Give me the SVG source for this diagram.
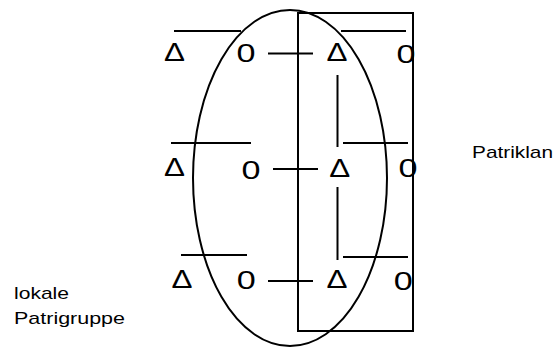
<svg xmlns="http://www.w3.org/2000/svg" width="554" height="347" viewBox="0 0 554 347">
<style>
.ln{stroke:#000;stroke-width:2;fill:none}
.sym{font-family:"Liberation Sans",Arial,sans-serif;font-size:25px;fill:#000;text-anchor:middle}
.lbl{font-family:"Liberation Sans",Arial,sans-serif;font-size:17px;fill:#000}
</style>
<rect width="554" height="347" fill="#fff"/>
<g id="patrigruppe-ellipse"><ellipse class="ln" cx="290" cy="178" rx="97" ry="168"/></g>
<g id="patriklan-rect"><rect class="ln" x="298" y="13" width="115" height="318"/></g>
<g id="row1-left">
<line class="ln" x1="174" y1="31" x2="241" y2="31"/>
<text class="sym" x="174.5" y="61" textLength="21" lengthAdjust="spacingAndGlyphs">Δ</text>
<text class="sym" x="246" y="62" textLength="19" lengthAdjust="spacingAndGlyphs">0</text>
</g>
<g id="row1-right">
<line class="ln" x1="341" y1="31" x2="406" y2="31"/>
<text class="sym" x="337" y="61" textLength="21" lengthAdjust="spacingAndGlyphs">Δ</text>
<text class="sym" x="406" y="63" textLength="19" lengthAdjust="spacingAndGlyphs">0</text>
</g>
<g id="row2-left">
<line class="ln" x1="171" y1="143" x2="251" y2="143"/>
<text class="sym" x="174.5" y="176" textLength="21" lengthAdjust="spacingAndGlyphs">Δ</text>
<text class="sym" x="251" y="178.5" textLength="19" lengthAdjust="spacingAndGlyphs">0</text>
</g>
<g id="row2-right">
<line class="ln" x1="343" y1="143" x2="408" y2="143"/>
<text class="sym" x="339.7" y="176.5" textLength="21" lengthAdjust="spacingAndGlyphs">Δ</text>
<text class="sym" x="408" y="176.5" textLength="19" lengthAdjust="spacingAndGlyphs">0</text>
</g>
<g id="row3-left">
<line class="ln" x1="181" y1="255" x2="247" y2="255"/>
<text class="sym" x="182" y="288" textLength="21" lengthAdjust="spacingAndGlyphs">Δ</text>
<text class="sym" x="246.3" y="288.5" textLength="19" lengthAdjust="spacingAndGlyphs">0</text>
</g>
<g id="row3-right">
<line class="ln" x1="343" y1="257" x2="408" y2="257"/>
<text class="sym" x="337" y="288" textLength="21" lengthAdjust="spacingAndGlyphs">Δ</text>
<text class="sym" x="403.3" y="290" textLength="19" lengthAdjust="spacingAndGlyphs">0</text>
</g>
<g id="connectors">
<line class="ln" x1="268" y1="53.5" x2="313" y2="53.5"/>
<line class="ln" x1="273" y1="169" x2="318" y2="169"/>
<line class="ln" x1="268" y1="281" x2="313" y2="281"/>
<line class="ln" x1="337.5" y1="75" x2="337.5" y2="147"/>
<line class="ln" x1="337.5" y1="187" x2="337.5" y2="260"/>
</g>
<g id="labels">
<text class="lbl" x="472" y="158" font-size="15.5" textLength="81" lengthAdjust="spacingAndGlyphs">Patriklan</text>
<text class="lbl" x="14" y="299" textLength="55" lengthAdjust="spacingAndGlyphs">lokale</text>
<text class="lbl" x="14" y="324" textLength="111" lengthAdjust="spacingAndGlyphs">Patrigruppe</text>
</g>
</svg>
